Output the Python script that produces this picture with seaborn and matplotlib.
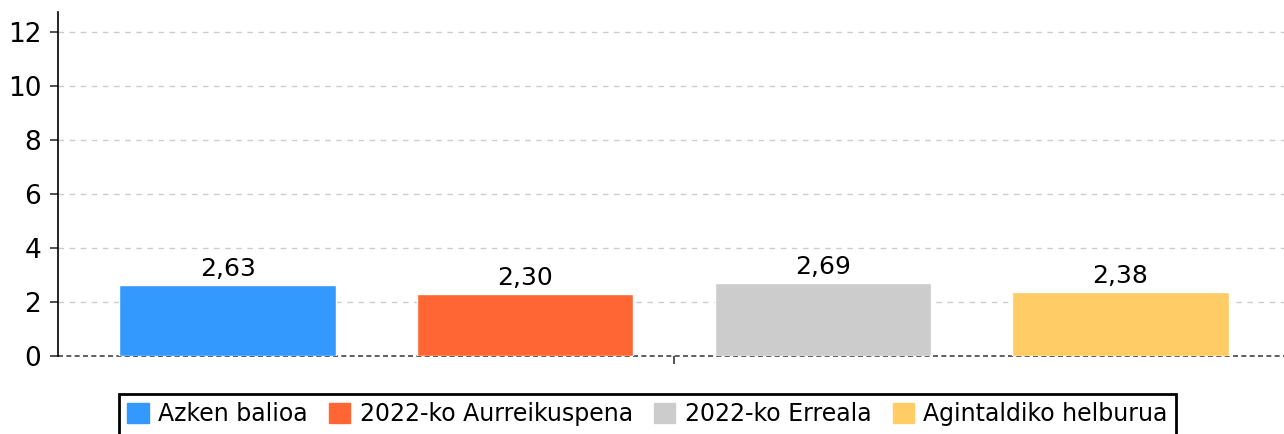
import matplotlib
matplotlib.use('Agg')
import matplotlib.pyplot as plt
import seaborn as sns
import pandas as pd

# Data
categories = ['Azken balioa', '2022-ko Aurreikuspena', '2022-ko Erreala', 'Agintaldiko helburua']
values = [2.63, 2.30, 2.69, 2.38]
colors = ['#3399FF', '#FF6633', '#CCCCCC', '#FFCC66']
yticks = [0, 2, 4, 6, 8, 10, 12]

df = pd.DataFrame({'Kategoria': categories, 'Balioa': values})

sns.set_style("white", {'text.color': 'black', 'axes.labelcolor': 'black',
                        'xtick.color': 'black', 'ytick.color': 'black'})
plt.rcParams['font.family'] = ['DejaVu Sans']

fig = plt.figure(figsize=(12.84, 4.34), dpi=100)
ax = fig.add_axes([58 / 1284, 1 - 356 / 434, 1 - 58 / 1284, (356 - 12) / 434])

sns.barplot(data=df, x='Kategoria', y='Balioa', hue='Kategoria',
            palette=colors, width=0.727, saturation=1, legend=False, ax=ax)

ax.set_xlim(-0.57, 3.55)
ax.set_ylim(0, 12.74)
ax.set_yticks(yticks)
ax.tick_params(axis='y', labelsize=19, length=6, width=1.2, color='#333333',
               labelcolor='black', left=True, pad=6)
ax.set_xticks([1.5])
ax.set_xticklabels([''])
ax.tick_params(axis='x', length=6, width=1.2, color='#333333', bottom=True)
ax.set_xlabel('')
ax.set_ylabel('')

# horizontal dashed grid (not at zero)
ax.yaxis.grid(False)
for y in yticks[1:]:
    ax.axhline(y, linestyle=(0, (4, 4)), color='#cccccc', linewidth=1, zorder=0)

for s in ['top', 'right', 'bottom']:
    ax.spines[s].set_visible(False)
ax.spines['left'].set_color('#000000')
ax.spines['left'].set_linewidth(1.2)
ax.axhline(0, color='#444444', linestyle=(0, (3, 2)), linewidth=1.2, zorder=0.9,
           clip_on=False)

# value labels
for i, v in enumerate(values):
    ax.annotate(f'{v:.2f}'.replace('.', ','), (i, v), xytext=(0, 3),
                textcoords='offset points', ha='center', va='bottom',
                fontsize=18, color='black')

# legend at bottom
handles = [plt.Rectangle((0, 0), 1, 1, color=c) for c in colors]
leg = fig.legend(handles, categories, loc='upper center', ncol=4,
                 bbox_to_anchor=(647.5 / 1284, 1 - 394 / 434),
                 fontsize=17, frameon=True, fancybox=False, framealpha=1,
                 handlelength=0.9, handleheight=0.9, handletextpad=0.4,
                 columnspacing=0.9, borderpad=0.35, borderaxespad=0)
leg.get_frame().set_edgecolor('#000000')
leg.get_frame().set_linewidth(2)
for t in leg.get_texts():
    t.set_color('black')

fig.savefig('out.png', dpi=100)
